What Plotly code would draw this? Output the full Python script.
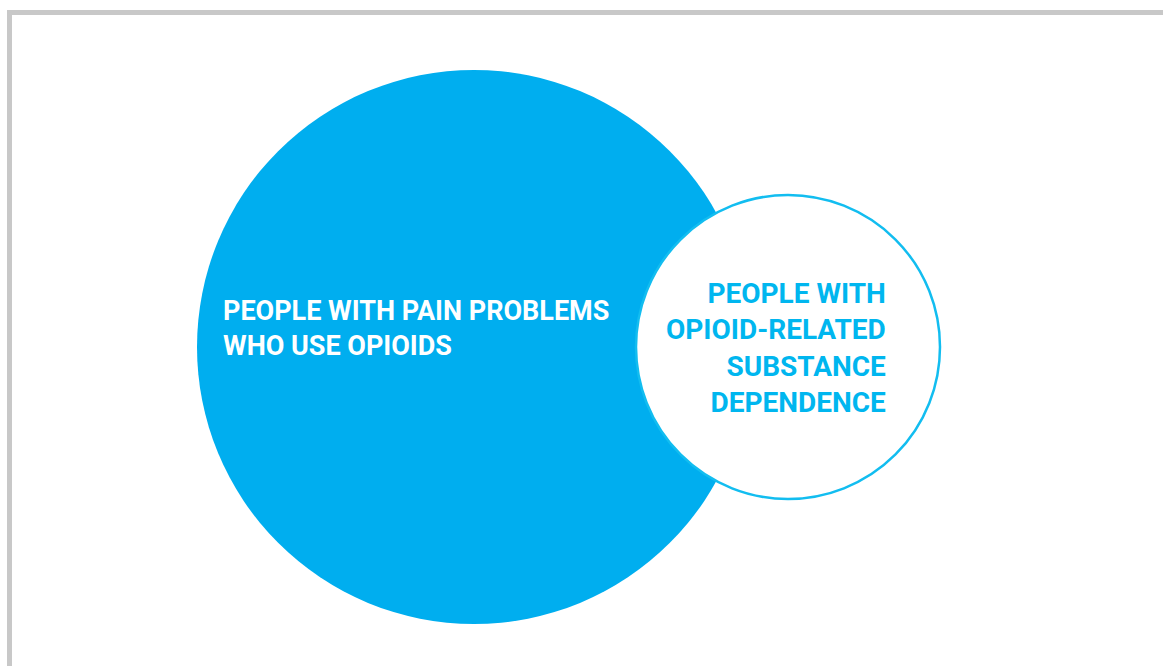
import plotly.graph_objects as go

# Data: two overlapping sets (pixel-space layout of the diagram)
set_labels = ["PEOPLE WITH PAIN PROBLEMS<br>WHO USE OPIOIDS",
              "PEOPLE WITH<br>OPIOID-RELATED<br>SUBSTANCE<br>DEPENDENCE"]
set_cx = [474, 788]
set_cy = [347, 347]
set_r = [277, 152]
fill_colors = ["#00AEEF", "#FFFFFF"]
line_colors = ["#00AEEF", "#12BDF0"]
text_colors = ["#FFFFFF", "#00B6EF"]

W, H = 1163, 666
FONT = "Roboto, Liberation Sans, sans-serif"
fig = go.Figure()

shapes = []
for cx, cy, r, fc, lc in zip(set_cx, set_cy, set_r, fill_colors, line_colors):
    shapes.append(dict(type="circle", xref="x", yref="y",
                       x0=cx - r, x1=cx + r, y0=cy - r, y1=cy + r,
                       fillcolor=fc, line=dict(color=lc, width=2.5 if fc == "#FFFFFF" else 0),
                       layer="above"))
# frame border (top and left)
shapes.append(dict(type="path", xref="x", yref="y",
                   path=f"M 9.5 {H} L 9.5 12.5 L {W} 12.5",
                   line=dict(color="#C8C8C8", width=5), layer="below"))

fig.add_trace(go.Scatter(x=[0, W], y=[0, H], mode="markers",
                         marker=dict(opacity=0), hoverinfo="skip", showlegend=False))

annotations = [
    dict(x=221, y=328, xref="x", yref="y", text=set_labels[0], showarrow=False,
         xanchor="left", yanchor="middle", align="left",
         font=dict(family=FONT, size=27, color=text_colors[0], weight="bold")),
    dict(x=888, y=348, xref="x", yref="y", text=set_labels[1], showarrow=False,
         xanchor="right", yanchor="middle", align="right",
         font=dict(family=FONT, size=28, color=text_colors[1], weight="bold")),
]

fig.update_layout(
    width=W, height=H, margin=dict(l=0, r=0, t=0, b=0),
    paper_bgcolor="white", plot_bgcolor="white",
    xaxis=dict(range=[0, W], visible=False, fixedrange=True),
    yaxis=dict(range=[H, 0], visible=False, fixedrange=True),
    shapes=shapes, annotations=annotations, showlegend=False,
)
fig.write_html("out.html", config={"displayModeBar": False},
               post_script="document.body.style.margin='0';")
